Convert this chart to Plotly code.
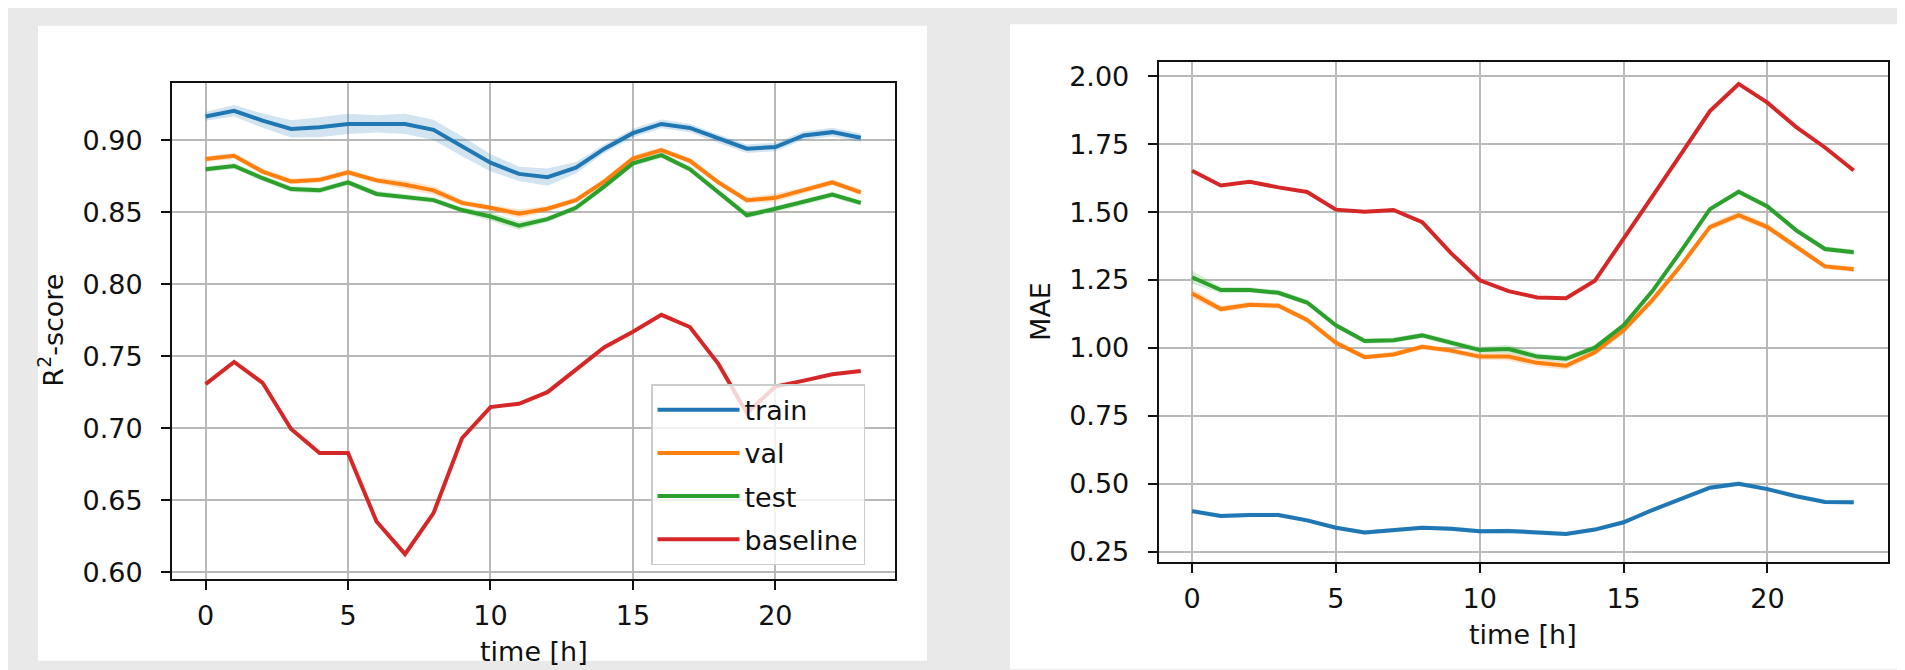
import plotly.graph_objects as go

# ---------------- data ----------------
hours = list(range(24))
series_names = ["train", "val", "test", "baseline"]
series_colors = ["#1f77b4", "#ff7f0e", "#2ca02c", "#d62728"]

# R2-score (left panel)
r2_train = [0.9164, 0.9203, 0.9135, 0.9077, 0.9089, 0.9112, 0.9112, 0.9112, 0.9071, 0.8957, 0.8843, 0.8765,
            0.8742, 0.8808, 0.8940, 0.9048, 0.9112, 0.9084, 0.9009, 0.8940, 0.8952, 0.9032, 0.9055, 0.9016]
r2_val = [0.8868, 0.8891, 0.8781, 0.8713, 0.8724, 0.8776, 0.8720, 0.8690, 0.8651, 0.8564, 0.8530, 0.8489,
          0.8523, 0.8583, 0.8713, 0.8872, 0.8930, 0.8856, 0.8706, 0.8583, 0.8599, 0.8651, 0.8706, 0.8637]
r2_test = [0.8797, 0.8820, 0.8735, 0.8660, 0.8651, 0.8706, 0.8626, 0.8605, 0.8583, 0.8514, 0.8469, 0.8405,
           0.8451, 0.8530, 0.8679, 0.8838, 0.8895, 0.8797, 0.8637, 0.8478, 0.8523, 0.8569, 0.8622, 0.8564]
r2_base = [0.7306, 0.7460, 0.7315, 0.6994, 0.6828, 0.6828, 0.6352, 0.6125, 0.6410, 0.6930, 0.7146, 0.7169,
           0.7250, 0.7402, 0.7562, 0.7670, 0.7787, 0.7702, 0.7446, 0.7105, 0.7288, 0.7330, 0.7374, 0.7397]

# spread (half width of shaded band) for R2
r2_train_sd = [0.003, 0.004, 0.005, 0.006, 0.007, 0.007, 0.006, 0.007, 0.007, 0.007, 0.006, 0.005,
               0.006, 0.004, 0.003, 0.003, 0.003, 0.003, 0.003, 0.003, 0.003, 0.003, 0.003, 0.003]
r2_val_sd = [0.002, 0.002, 0.002, 0.002, 0.002, 0.002, 0.002, 0.003, 0.003, 0.002, 0.002, 0.003,
             0.002, 0.002, 0.002, 0.002, 0.002, 0.002, 0.002, 0.002, 0.003, 0.002, 0.002, 0.002]
r2_test_sd = [0.002, 0.002, 0.002, 0.002, 0.002, 0.002, 0.002, 0.002, 0.002, 0.002, 0.003, 0.003,
              0.002, 0.002, 0.002, 0.002, 0.002, 0.002, 0.002, 0.002, 0.002, 0.002, 0.002, 0.002]

# MAE (right panel)
mae_train = [0.399, 0.381, 0.385, 0.385, 0.365, 0.338, 0.320, 0.328, 0.338, 0.334, 0.325, 0.326,
             0.320, 0.315, 0.331, 0.358, 0.403, 0.444, 0.485, 0.500, 0.480, 0.454, 0.433, 0.432]
mae_val = [1.200, 1.143, 1.159, 1.155, 1.103, 1.019, 0.966, 0.976, 1.004, 0.990, 0.968, 0.968,
           0.945, 0.934, 0.984, 1.065, 1.176, 1.304, 1.445, 1.489, 1.445, 1.372, 1.300, 1.290]
mae_test = [1.260, 1.213, 1.213, 1.203, 1.167, 1.083, 1.025, 1.028, 1.046, 1.019, 0.992, 0.996,
            0.968, 0.960, 1.001, 1.083, 1.209, 1.357, 1.511, 1.575, 1.521, 1.433, 1.364, 1.352]
mae_base = [1.652, 1.598, 1.612, 1.591, 1.574, 1.509, 1.501, 1.508, 1.463, 1.349, 1.249, 1.209,
            1.186, 1.183, 1.247, 1.400, 1.558, 1.714, 1.872, 1.972, 1.903, 1.813, 1.738, 1.653]

mae_train_sd = [0.009, 0.008, 0.008, 0.008, 0.008, 0.008, 0.008, 0.008, 0.008, 0.008, 0.008, 0.008,
                0.009, 0.008, 0.008, 0.008, 0.008, 0.008, 0.009, 0.009, 0.008, 0.008, 0.008, 0.009]
mae_val_sd = [0.018, 0.012, 0.010, 0.010, 0.010, 0.010, 0.010, 0.010, 0.010, 0.010, 0.012, 0.014,
              0.014, 0.014, 0.012, 0.012, 0.012, 0.012, 0.012, 0.014, 0.012, 0.012, 0.010, 0.010]
mae_test_sd = [0.024, 0.012, 0.010, 0.010, 0.010, 0.010, 0.010, 0.010, 0.010, 0.010, 0.012, 0.016,
               0.012, 0.012, 0.010, 0.010, 0.010, 0.010, 0.010, 0.010, 0.010, 0.010, 0.010, 0.010]

x_ticks = [0, 5, 10, 15, 20]
r2_ticks = [0.60, 0.65, 0.70, 0.75, 0.80, 0.85, 0.90]
mae_ticks = [0.25, 0.50, 0.75, 1.00, 1.25, 1.50, 1.75, 2.00]

x_title = "time [h]"
r2_title = "R<sup>2</sup>-score"
mae_title = "MAE"

# ---------------- styling ----------------
W, H = 1905, 670
FONT = "DejaVu Sans"
TXT = "#111111"
FS = 27


def px(x):
    return x / W


def py(y):
    return 1 - y / H


def rgba(hex_color, a):
    h = hex_color.lstrip("#")
    r, g, b = int(h[0:2], 16), int(h[2:4], 16), int(h[4:6], 16)
    return f"rgba({r},{g},{b},{a})"


fig = go.Figure()


def add_series(xa, ya, values, spread, name, color, show_legend):
    if spread is not None:
        lower = [v - s for v, s in zip(values, spread)]
        upper = [v + s for v, s in zip(values, spread)]
        fig.add_trace(go.Scatter(x=hours, y=lower, mode="lines", line=dict(width=0, color=color),
                                 showlegend=False, hoverinfo="skip", xaxis=xa, yaxis=ya))
        fig.add_trace(go.Scatter(x=hours, y=upper, mode="lines", line=dict(width=0, color=color),
                                 fill="tonexty", fillcolor=rgba(color, 0.2),
                                 showlegend=False, hoverinfo="skip", xaxis=xa, yaxis=ya))
    fig.add_trace(go.Scatter(x=hours, y=values, mode="lines", name=name,
                             line=dict(color=color, width=4),
                             legendgroup=name, showlegend=show_legend, xaxis=xa, yaxis=ya))


left_vals = [r2_train, r2_val, r2_test, r2_base]
left_sd = [r2_train_sd, r2_val_sd, r2_test_sd, None]
right_vals = [mae_train, mae_val, mae_test, mae_base]
right_sd = [mae_train_sd, mae_val_sd, mae_test_sd, None]

for vals, sd, name, col in zip(left_vals, left_sd, series_names, series_colors):
    add_series("x", "y", vals, sd, name, col, True)
for vals, sd, name, col in zip(right_vals, right_sd, series_names, series_colors):
    add_series("x2", "y2", vals, sd, name, col, False)

axis_common = dict(
    showline=True, linecolor="#111111", linewidth=2, mirror=True,
    ticks="outside", ticklen=9, tickwidth=2, tickcolor="#111111",
    showgrid=True, gridcolor="#b9b9b9", gridwidth=2, zeroline=False,
    tickfont=dict(family=FONT, size=FS, color=TXT),
)

fig.update_layout(
    width=W, height=H,
    margin=dict(l=0, r=0, t=0, b=0),
    paper_bgcolor="#e9e9e9",
    plot_bgcolor="#ffffff",
    font=dict(family=FONT, size=FS, color=TXT),
    xaxis=dict(domain=[px(164), px(886.7)], range=[-1.18, 24.19], tickvals=x_ticks,
               anchor="y", ticklabelstandoff=3, **axis_common),
    yaxis=dict(domain=[py(578.3), py(75)], range=[0.5955, 0.9397], tickvals=r2_ticks,
               tickformat=".2f", anchor="x", ticklabelstandoff=13, **axis_common),
    xaxis2=dict(domain=[px(1150.7), px(1880)], range=[-1.16, 24.19], tickvals=x_ticks,
                anchor="y2", ticklabelstandoff=3, **axis_common),
    yaxis2=dict(domain=[py(561), py(54)], range=[0.213, 2.052], tickvals=mae_ticks,
                tickformat=".2f", anchor="x2", ticklabelstandoff=13, **axis_common),
    legend=dict(
        x=px(643), y=py(381), xanchor="left", yanchor="top",
        bgcolor="rgba(255,255,255,0.8)", bordercolor="#cccccc", borderwidth=1.5,
        font=dict(family=FONT, size=FS, color=TXT),
        itemwidth=82, tracegroupgap=5,
    ),
    shapes=[
        dict(type="rect", xref="paper", yref="paper", layer="below",
             x0=px(30), x1=px(919), y0=py(661.7), y1=py(17),
             fillcolor="#ffffff", line=dict(width=0)),
        dict(type="rect", xref="paper", yref="paper", layer="below",
             x0=px(1002), x1=px(1892), y0=py(670), y1=py(15.6),
             fillcolor="#ffffff", line=dict(width=0)),
    ],
    annotations=[
        dict(text=r2_title, xref="paper", yref="paper", x=px(43), y=py(326.5),
             xanchor="center", yanchor="middle", textangle=-90, showarrow=False,
             font=dict(family=FONT, size=FS, color=TXT)),
        dict(text=x_title, xref="paper", yref="paper", x=px(525.5), y=py(652),
             xanchor="center", yanchor="middle", showarrow=False,
             font=dict(family=FONT, size=FS, color=TXT)),
        dict(text=mae_title, xref="paper", yref="paper", x=px(1033), y=py(307.5),
             xanchor="center", yanchor="middle", textangle=-90, showarrow=False,
             font=dict(family=FONT, size=FS, color=TXT)),
        dict(text=x_title, xref="paper", yref="paper", x=px(1515.3), y=py(635),
             xanchor="center", yanchor="middle", showarrow=False,
             font=dict(family=FONT, size=FS, color=TXT)),
    ],
)

fig.write_html("out.html")
